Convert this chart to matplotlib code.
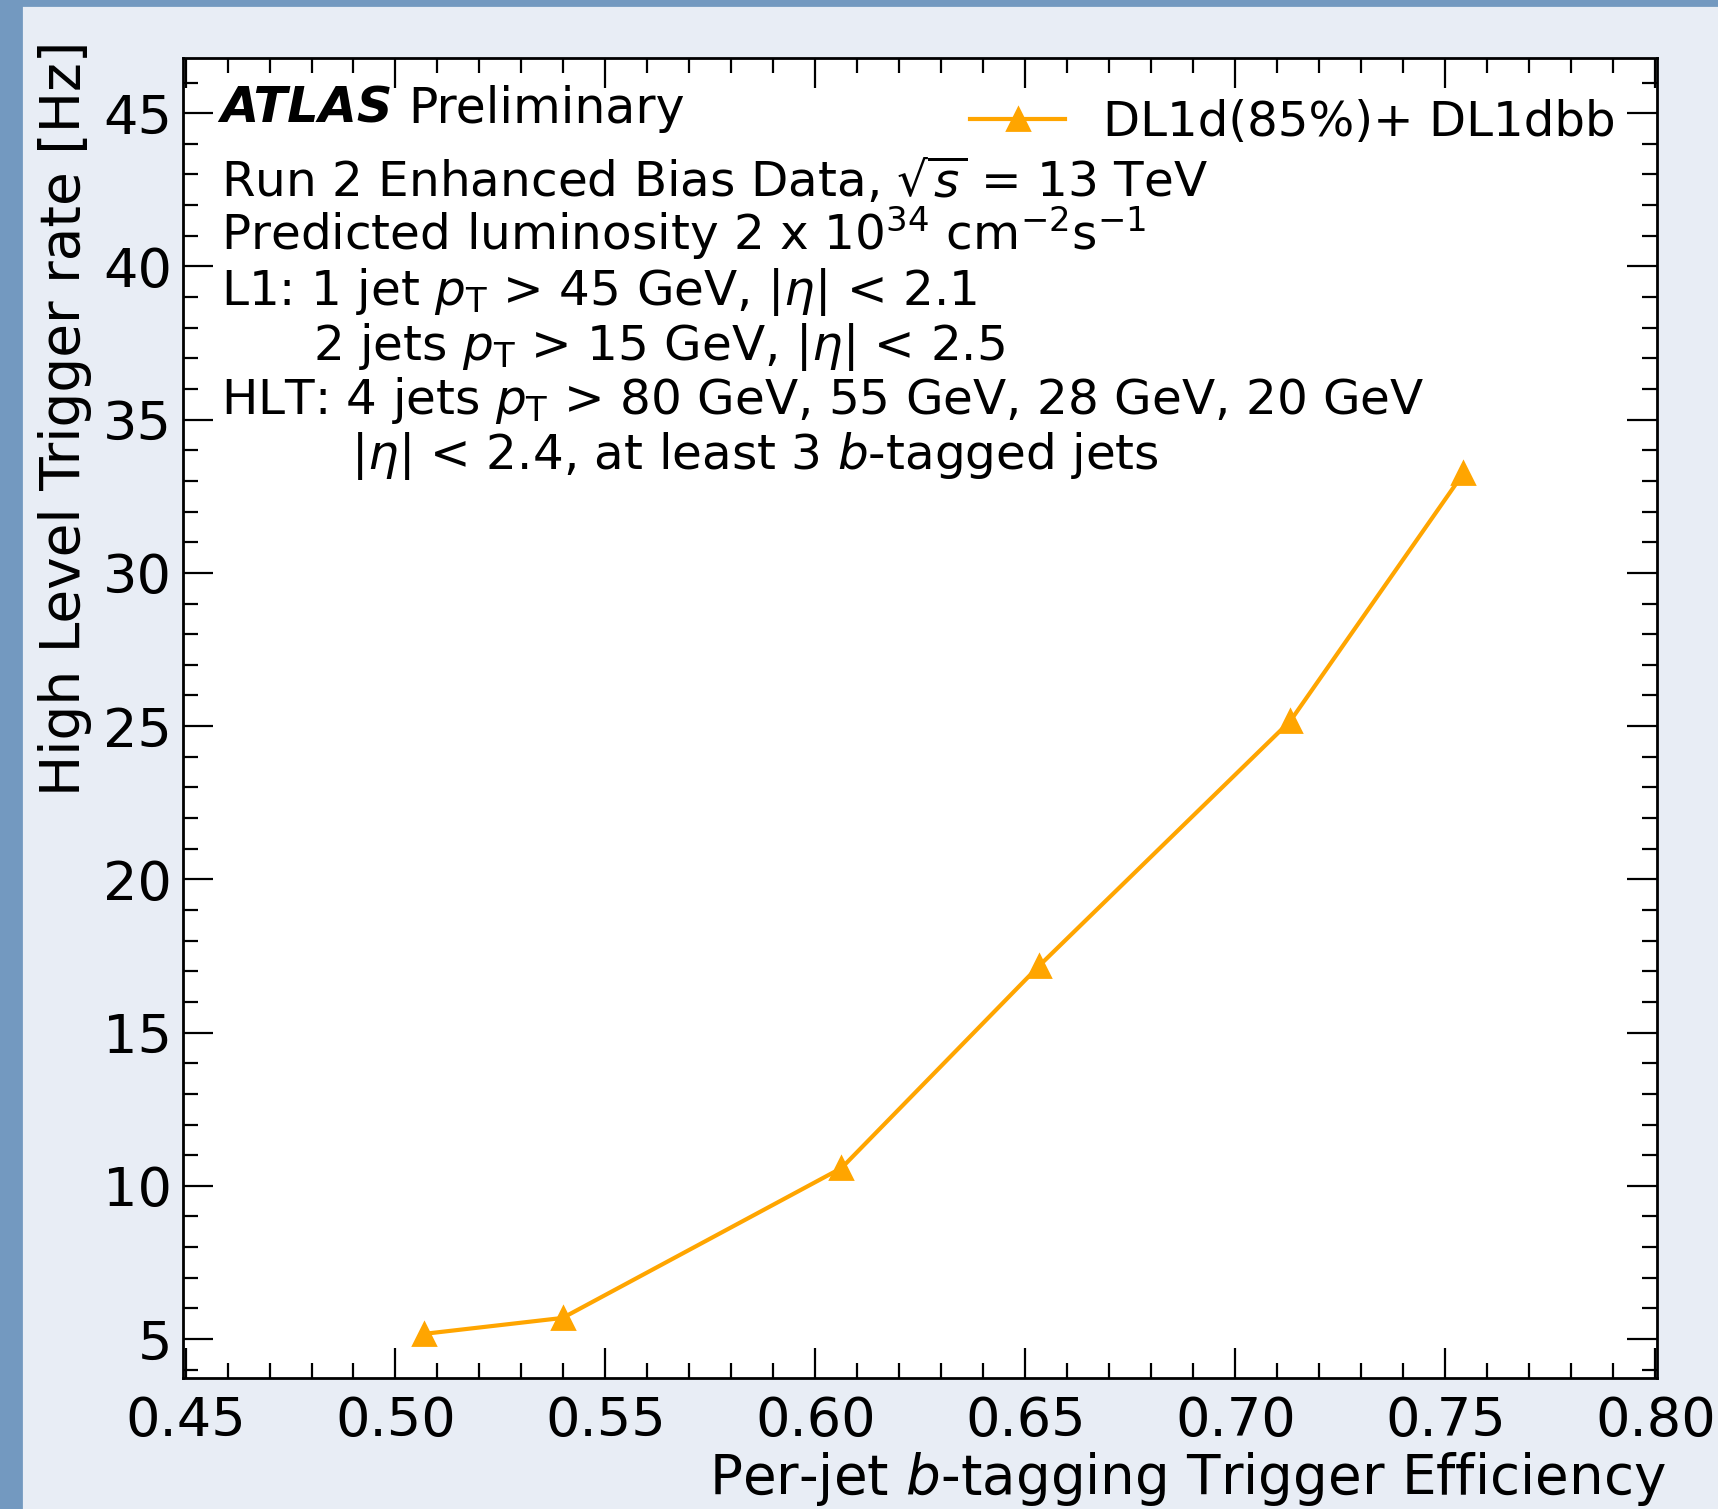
import numpy as np
import matplotlib
matplotlib.use('Agg')
import matplotlib.pyplot as plt
from matplotlib.patches import Rectangle
from matplotlib.ticker import MultipleLocator, FormatStrFormatter

# per-jet b-tagging efficiency vs HLT rate
efficiency = [0.5068, 0.5398, 0.6062, 0.6532, 0.7131, 0.7543]
rate_hz = [5.17, 5.69, 10.58, 17.17, 25.17, 33.25]
series_label = 'DL1d(85%)+ DL1dbb'

x_ticks = [0.45, 0.50, 0.55, 0.60, 0.65, 0.70, 0.75, 0.80]
y_ticks = [5, 10, 15, 20, 25, 30, 35, 40, 45]

info_lines = [
    r'Run 2 Enhanced Bias Data, $\sqrt{s}$ = 13 TeV',
    r'Predicted luminosity 2 x 10$^{34}$ cm$^{-2}$s$^{-1}$',
    r'L1: 1 jet $p_{\mathrm{T}}$ > 45 GeV, $|\eta|$ < 2.1',
    r'2 jets $p_{\mathrm{T}}$ > 15 GeV, $|\eta|$ < 2.5',
    r'HLT: 4 jets $p_{\mathrm{T}}$ > 80 GeV, 55 GeV, 28 GeV, 20 GeV',
    r'$|\eta|$ < 2.4, at least 3 $b$-tagged jets',
]
info_x = [0.0255, 0.0255, 0.0255, 0.088, 0.0255, 0.114]
info_y = [0.8947, 0.8545, 0.8129, 0.7712, 0.7303, 0.6886]

DPI = 200
fig = plt.figure(figsize=(1718 / DPI, 1509 / DPI), dpi=DPI, facecolor='#e8edf5')
fig.patches.append(Rectangle((0, 0), 21 / 1718, 1, transform=fig.transFigure,
                             color='#7399c0', zorder=0))
fig.patches.append(Rectangle((0, 1 - 5 / 1509), 1, 5 / 1509, transform=fig.transFigure,
                             color='#7399c0', zorder=0))

ax = fig.add_axes([183 / 1718, 1 - 1378 / 1509, 1474 / 1718, 1320 / 1509])
ax.set_facecolor('white')

ax.plot(efficiency, rate_hz, color='orange', marker='^', markersize=8, lw=1.5,
        label=series_label)

ax.set_xlim(0.4494, 0.8004)
ax.set_ylim(3.73, 46.8)
ax.set_xticks(x_ticks)
ax.set_yticks(y_ticks)
ax.xaxis.set_major_formatter(FormatStrFormatter('%.2f'))
ax.xaxis.set_minor_locator(MultipleLocator(0.01))
ax.yaxis.set_minor_locator(MultipleLocator(1))
ax.tick_params(which='both', direction='in', top=True, right=True, width=0.8)
ax.tick_params(which='major', length=10.8, labelsize=19.5)
ax.tick_params(axis='x', which='major', pad=6)
ax.tick_params(axis='y', which='major', pad=4)
ax.tick_params(which='minor', length=5.4)
for s in ax.spines.values():
    s.set_linewidth(1.0)

ax.set_xlabel(r'Per-jet $b$-tagging Trigger Efficiency', fontsize=19.7, loc='right',
              labelpad=1.2)
ax.xaxis.label.set_x(1.006)
ax.set_ylabel('High Level Trigger rate [Hz]', fontsize=19.8, loc='top')
ax.yaxis.label.set_y(1.013)

ax.text(0.0255, 0.9508, 'ATLAS', transform=ax.transAxes, fontsize=17.8,
        fontweight='bold', style='italic', va='baseline')
ax.text(0.153, 0.9508, 'Preliminary', transform=ax.transAxes, fontsize=17.6,
        va='baseline')
for txt, tx, ty in zip(info_lines, info_x, info_y):
    ax.text(tx, ty, txt, transform=ax.transAxes, fontsize=17.45, va='baseline')

ax.legend(loc='upper right', frameon=False, fontsize=17.4, handlelength=1.95,
          handletextpad=0.8, borderaxespad=0.45)

fig.savefig('out.png', dpi=DPI, facecolor=fig.get_facecolor())
